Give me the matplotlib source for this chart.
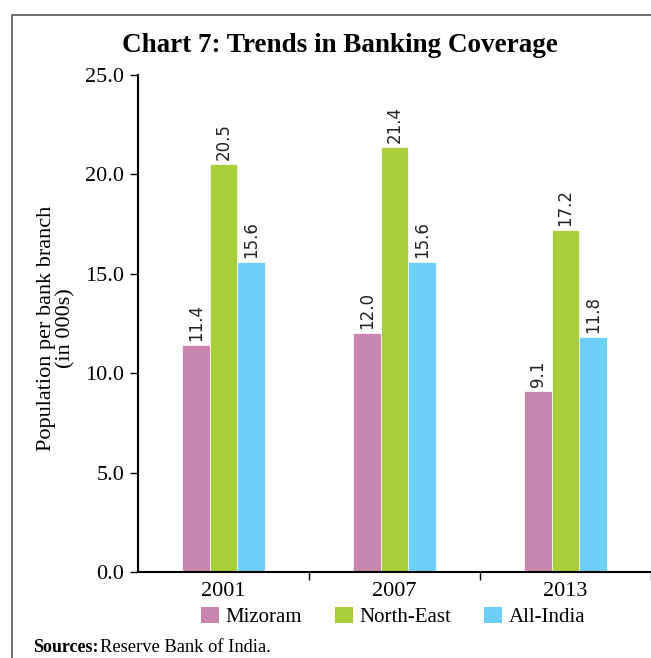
import matplotlib
matplotlib.use("Agg")
import matplotlib.pyplot as plt
from matplotlib.lines import Line2D
from matplotlib.patches import Patch
import numpy as np

years = ["2001", "2007", "2013"]
series = ["Mizoram", "North-East", "All-India"]
mizoram = [11.4, 12.0, 9.1]
north_east = [20.5, 21.4, 17.2]
all_india = [15.6, 15.6, 11.8]
colors = ["#C785B0", "#A8CE3A", "#6CCFF5"]

serif = "Liberation Serif"

fig = plt.figure(figsize=(6.51, 6.58), dpi=100)
ax = fig.add_axes([0.212, 0.1307, 0.788, 0.7553])

x = np.arange(len(years))
width = 0.16
for i, (vals, c) in enumerate(zip([mizoram, north_east, all_india], colors)):
  pos = x + (i - 1) * width
  ax.bar(pos, vals, width=width, color=c, edgecolor="white", linewidth=0.5)
  for px, v in zip(pos, vals):
    ax.text(px, v + 0.2, "%.1f" % v, rotation=90, ha="center", va="bottom",
            fontsize=12, color="#222222", family="DejaVu Sans")

ax.set_xlim(-0.5, 2.5)
ax.set_ylim(0, 25)
ax.set_yticks(np.arange(0, 25.1, 5))
ax.set_yticklabels(["%.1f" % t for t in np.arange(0, 25.1, 5)], family=serif, fontsize=16)
ax.set_xticks(x)
ax.set_xticklabels(years, family=serif, fontsize=16)
ax.set_xticks([0.5, 1.5, 2.5], minor=True)
ax.tick_params(axis="x", which="major", length=0, pad=7)
ax.tick_params(axis="x", which="minor", length=6, width=1, direction="out")
ax.tick_params(axis="y", length=6, width=1, direction="out", pad=4)
for s in ["top", "right"]:
  ax.spines[s].set_visible(False)
for s in ["left", "bottom"]:
  ax.spines[s].set_linewidth(1.5)

fig.text(56 / 651, 0.5015, "Population per bank branch\n(in 000s)", rotation=90,
         ha="center", va="center", family=serif, fontsize=16, linespacing=1.05)

fig.text(0.5215, 1 - 46 / 658, "Chart 7: Trends in Banking Coverage", ha="center", va="center",
         family=serif, fontsize=19.5, fontweight="bold")

handles = [Patch(facecolor=c) for c in colors]
fig.legend(handles, series, loc="center", bbox_to_anchor=(0.604, 1 - 617 / 658), ncol=3,
           frameon=False, handlelength=0.85, handleheight=0.85, handletextpad=0.3,
           columnspacing=1.6, borderaxespad=0, prop={"family": serif, "size": 15})

fig.text(33 / 651, 1 - 648 / 658, "Sources:", ha="left", va="center", family=serif,
         fontsize=13, fontweight="bold")
fig.text(100 / 651, 1 - 648 / 658, "Reserve Bank of India.", ha="left", va="center",
         family=serif, fontsize=13.3)

# outer frame (left and top edges)
fx = 12 / 651
fy = 1 - 15 / 658
fig.add_artist(Line2D([fx, fx, 1.0], [0, fy, fy], transform=fig.transFigure,
                      color="#555555", linewidth=1.2))

fig.savefig("out.png", dpi=100)
